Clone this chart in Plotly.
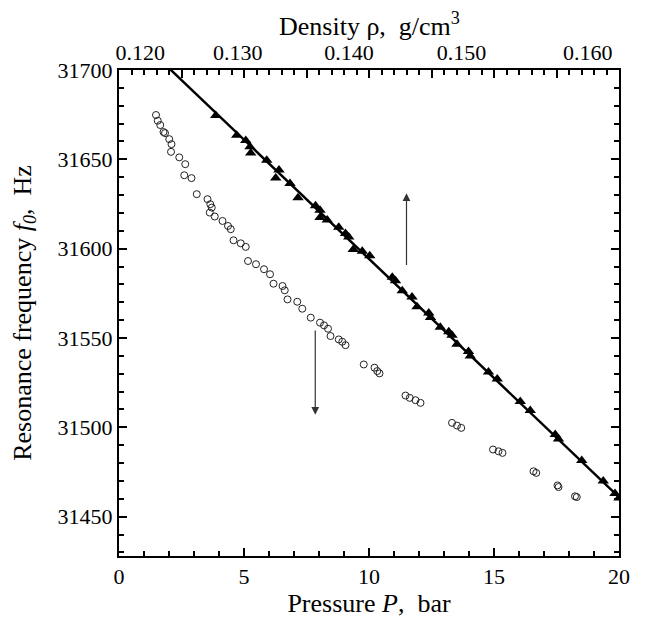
import plotly.graph_objects as go

# open circles: frequency vs pressure (bottom axis)
circle_p = [1.48, 1.55, 1.65, 1.78, 1.84, 2.01, 2.10, 2.08, 2.41, 2.65, 2.61, 2.90, 3.11,
            3.54, 3.65, 3.71, 3.63, 3.83, 4.14, 4.36, 4.47, 4.58, 4.87, 5.07, 5.16, 5.48,
            5.80, 6.04, 6.18, 6.54, 6.63, 6.74, 7.13, 7.33, 7.67, 8.04, 8.20, 8.36, 8.46,
            8.79, 8.93, 9.06, 9.79, 10.22, 10.33, 10.42, 11.46, 11.63, 11.86, 12.06, 13.32,
            13.52, 13.69, 14.96, 15.18, 15.34, 16.58, 16.69, 17.54, 17.58, 18.24, 18.31]
circle_f = [31674.8, 31671.6, 31669.2, 31665.3, 31664.7, 31661.3, 31658.5, 31654.2, 31651.1,
            31647.3, 31641.1, 31639.5, 31630.5, 31627.7, 31624.9, 31623.0, 31620.2, 31618.0,
            31615.5, 31612.7, 31610.9, 31604.7, 31603.0, 31601.0, 31593.1, 31591.3, 31588.5,
            31585.7, 31580.4, 31579.1, 31576.7, 31571.6, 31570.3, 31566.4, 31561.4, 31558.6,
            31557.1, 31555.2, 31551.1, 31549.2, 31547.9, 31546.0, 31535.2, 31533.4, 31531.5,
            31530.2, 31517.8, 31516.5, 31515.2, 31513.7, 31502.5, 31501.0, 31499.7, 31487.6,
            31486.6, 31485.7, 31475.4, 31474.5, 31467.5, 31466.6, 31461.4, 31461.0]

# filled triangles: frequency vs density (top axis), placed in pressure units
tri_p = [3.87, 4.71, 5.07, 5.24, 5.27, 5.91, 6.40, 6.27, 6.84, 7.16, 7.86, 8.04, 8.04, 8.33,
         8.79, 9.06, 9.19, 9.37, 9.73, 10.03, 10.93, 11.06, 11.33, 11.72, 11.92, 12.39,
         12.46, 12.85, 13.19, 13.32, 13.52, 13.98, 14.05, 14.78, 15.13, 16.05, 16.45, 17.45,
         17.58, 18.51, 19.37, 19.84, 20.0]
tri_f = [31674.5, 31663.5, 31660.5, 31657.0, 31653.5, 31649.5, 31644.0, 31639.5, 31636.5,
         31628.5, 31624.0, 31621.5, 31617.5, 31616.0, 31612.0, 31608.5, 31606.5, 31599.5,
         31598.5, 31596.0, 31584.0, 31582.0, 31576.5, 31573.0, 31567.5, 31564.0, 31561.5,
         31556.0, 31553.5, 31551.5, 31546.5, 31542.5, 31540.0, 31531.0, 31527.0, 31514.5,
         31509.5, 31496.0, 31493.5, 31481.5, 31470.0, 31463.0, 31460.5]

# fitted line through the triangles
line_p = [0.0, 20.0]
line_f = [31727.7, 31460.9]

# density labels on the top axis and where they sit in pressure units
density_labels = ["0.120", "0.130", "0.140", "0.150", "0.160"]
density_pos = [0.85, 4.75, 9.2, 13.7, 18.75]

tick_font = dict(family="Liberation Serif", size=22, color="black")
title_font = dict(family="Liberation Serif", size=26, color="black")

fig = go.Figure()
fig.add_trace(go.Scatter(x=line_p, y=line_f, mode="lines", xaxis="x2",
                         line=dict(color="black", width=2.5), showlegend=False))
fig.add_trace(go.Scatter(x=tri_p, y=tri_f, mode="markers", xaxis="x2",
                         marker=dict(symbol="triangle-up", size=10, color="black"),
                         showlegend=False))
fig.add_trace(go.Scatter(x=circle_p, y=circle_f, mode="markers",
                         marker=dict(symbol="circle-open", size=7, color="#222",
                                     line=dict(width=1)),
                         showlegend=False))
fig.add_trace(go.Scatter(x=[None], y=[None], xaxis="x3", showlegend=False))

# arrows pointing to the axis each series belongs to
fig.add_annotation(x=11.5, y=31631, ax=11.5, ay=31590, xref="x", yref="y", axref="x", ayref="y",
                   text="", showarrow=True, arrowhead=2, arrowsize=1.3, arrowwidth=1.2,
                   arrowcolor="#333")
fig.add_annotation(x=7.85, y=31507, ax=7.85, ay=31555, xref="x", yref="y", axref="x", ayref="y",
                   text="", showarrow=True, arrowhead=2, arrowsize=1.3, arrowwidth=1.2,
                   arrowcolor="#333")

# top axis title
fig.add_annotation(x=0.5, y=1, xref="paper", yref="paper", xanchor="center", yanchor="bottom",
                   yshift=27, showarrow=False, font=title_font,
                   text="Density ρ,\u00a0 g/cm<sup>3</sup>")

fig.update_layout(
    width=651, height=620,
    margin=dict(l=111, r=40, t=62, b=72),
    plot_bgcolor="white", paper_bgcolor="white",
    font=tick_font,
    xaxis=dict(range=[0, 20], tickmode="linear", tick0=0, dtick=5, tickfont=tick_font,
               automargin=False,
               ticks="inside", ticklen=8, tickwidth=1.5, tickcolor="black",
               minor=dict(dtick=1, ticks="inside", ticklen=5, tickwidth=1.5, tickcolor="black"),
               showline=True, linewidth=2, linecolor="black", showgrid=False, zeroline=False,
               title=dict(text="Pressure <i>P</i>,\u00a0 bar", font=title_font, standoff=0)),
    xaxis2=dict(range=[0, 20], overlaying="x", side="top", tickmode="array",
                tickvals=density_pos, ticktext=density_labels, ticks="", tickfont=tick_font,
                ticklabelstandoff=5, automargin=False,
                showline=False, showgrid=False, zeroline=False),
    xaxis3=dict(range=[0, 20], overlaying="x", side="top", tickmode="linear", tick0=0,
                dtick=2.5, ticks="inside", ticklen=8, tickwidth=1.5, tickcolor="black",
                minor=dict(dtick=0.5, ticks="inside", ticklen=5, tickwidth=1.5, tickcolor="black"),
                showticklabels=False, showline=True, linewidth=2, linecolor="black",
                showgrid=False, zeroline=False, automargin=False),
    yaxis=dict(range=[31428, 31700], tickmode="linear", tick0=31450, dtick=50,
               tickformat="d", tickfont=tick_font, automargin=False,
               ticks="inside", ticklen=8, tickwidth=1.5, tickcolor="black",
               minor=dict(dtick=10, ticks="inside", ticklen=5, tickwidth=1.5, tickcolor="black"),
               showline=True, linewidth=2, linecolor="black", mirror="ticks",
               showgrid=False, zeroline=False,
               title=dict(text="Resonance frequency <i>f</i><sub><i>0</i></sub>,\u00a0 Hz",
                          font=title_font, standoff=20)),
)

fig.write_html("out.html")
